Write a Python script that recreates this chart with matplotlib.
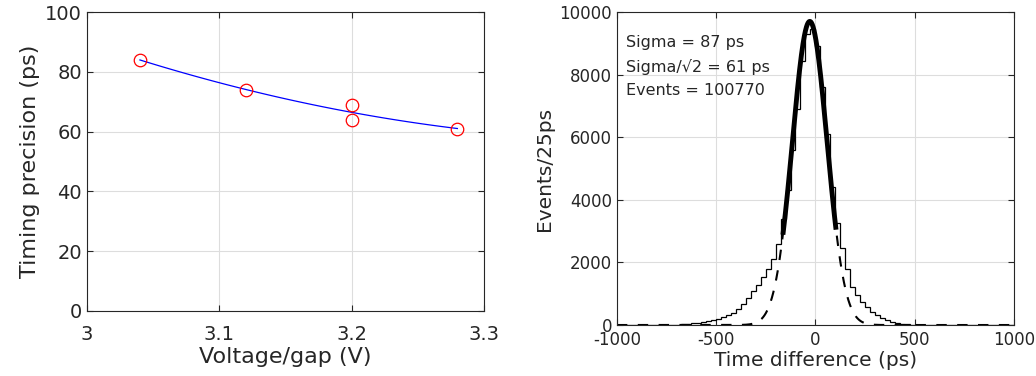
'''
Timing precision vs voltage, and time difference histogram with gaussian fit
'''

from matplotlib import pyplot as plt
import numpy as np

# left panel data
voltage = [3.04, 3.12, 3.20, 3.20, 3.28]
precision = [84, 74, 69, 64, 61]

# right panel data (25 ps bins, left edges from -1000)
bin_edges = np.arange(-1000, 1001, 25)
counts = [0, 0, 0, 0, 0, 0, 0, 0, 0, 0,          # -1000 .. -775
          0, 3, 10, 20, 35, 50, 70, 90, 120, 150,   # -750 .. -525
          190, 260, 320, 390, 520, 680, 850, 1100, 1280, 1530,  # -500 .. -275
          1780, 2100, 2600, 3400, 4300, 5600, 6900, 8450, 9300, 9450,  # -250 .. -25
          8900, 7600, 6100, 4400, 3250, 2450, 1780, 1220, 960, 745,  # 0 .. 225
          585, 425, 320, 210, 160, 105, 75, 45, 25, 15,  # 250 .. 475
          10, 5, 3, 0, 0, 0, 0, 0, 0, 0,          # 500 .. 725
          0, 0, 0, 0, 0, 0, 0, 0, 0, 0]           # 750 .. 975
fit_peak = 9700
fit_mean = -28
fit_sigma = 87
fit_range = [-162, 103]
n_events = 100770

FG = '#262626'
plt.rcParams['font.family'] = ['DejaVu Sans']
plt.rcParams['axes.unicode_minus'] = False


def style(ax, fs):
    ax.grid(True, color='#dddddd', linewidth=0.8)
    ax.set_axisbelow(True)
    ax.tick_params(direction='in', top=True, right=True, labelsize=fs,
                   colors=FG, length=4)
    for s in ax.spines.values():
        s.set_color(FG)


fig = plt.figure(figsize=(10.36, 3.76), dpi=100)

ax1 = fig.add_axes([0.084, 0.173, 0.383, 0.795])
c = np.polyfit(voltage, precision, 2)
xs = np.linspace(min(voltage), max(voltage), 100)
ax1.plot(xs, np.polyval(c, xs), color='blue', linewidth=0.9)
ax1.plot(voltage, precision, 'o', color='red', markerfacecolor='none',
         markersize=9, markeredgewidth=0.9)
ax1.set_xlim(3, 3.3)
ax1.set_ylim(0, 100)
ax1.set_xticks([3, 3.1, 3.2, 3.3])
ax1.set_xticklabels(['3', '3.1', '3.2', '3.3'])
ax1.set_yticks(range(0, 101, 20))
style(ax1, 14)
ax1.tick_params(axis='x', pad=10)
ax1.set_xlabel('Voltage/gap (V)', fontsize=16, color=FG, labelpad=2)
ax1.set_ylabel('Timing precision (ps)', fontsize=16, color=FG)

ax2 = fig.add_axes([0.5955, 0.1356, 0.383, 0.8325])
ax2.stairs(counts, bin_edges, color='black', linewidth=0.9)
tt = np.linspace(-1000, 1000, 800)
ax2.plot(tt, fit_peak * np.exp(-0.5 * ((tt - fit_mean) / fit_sigma) ** 2),
         color='black', linestyle=(0, (5, 5)), linewidth=1.5)
tf = np.linspace(fit_range[0], fit_range[1], 200)
ax2.plot(tf, fit_peak * np.exp(-0.5 * ((tf - fit_mean) / fit_sigma) ** 2),
         color='black', linewidth=3.5)
ax2.set_xlim(-1000, 1000)
ax2.set_ylim(0, 10000)
ax2.set_xticks([-1000, -500, 0, 500, 1000])
ax2.set_yticks(range(0, 10001, 2000))
style(ax2, 12)
ax2.tick_params(axis='x', pad=4)
ax2.set_xlabel('Time difference (ps)', fontsize=14.5, color=FG, labelpad=2)
ax2.set_ylabel('Events/25ps', fontsize=14.5, color=FG)
ax2.text(-955, 9010, 'Sigma = %d ps' % fit_sigma, fontsize=11.5, color=FG, va='center')
ax2.text(-955, 8245, 'Sigma/\u221a2 = %d ps' % int(fit_sigma / np.sqrt(2)),
         fontsize=11.5, color=FG, va='center')
ax2.text(-955, 7480, 'Events = %d' % n_events, fontsize=11.5, color=FG, va='center')

plt.savefig('out.png', dpi=100)
